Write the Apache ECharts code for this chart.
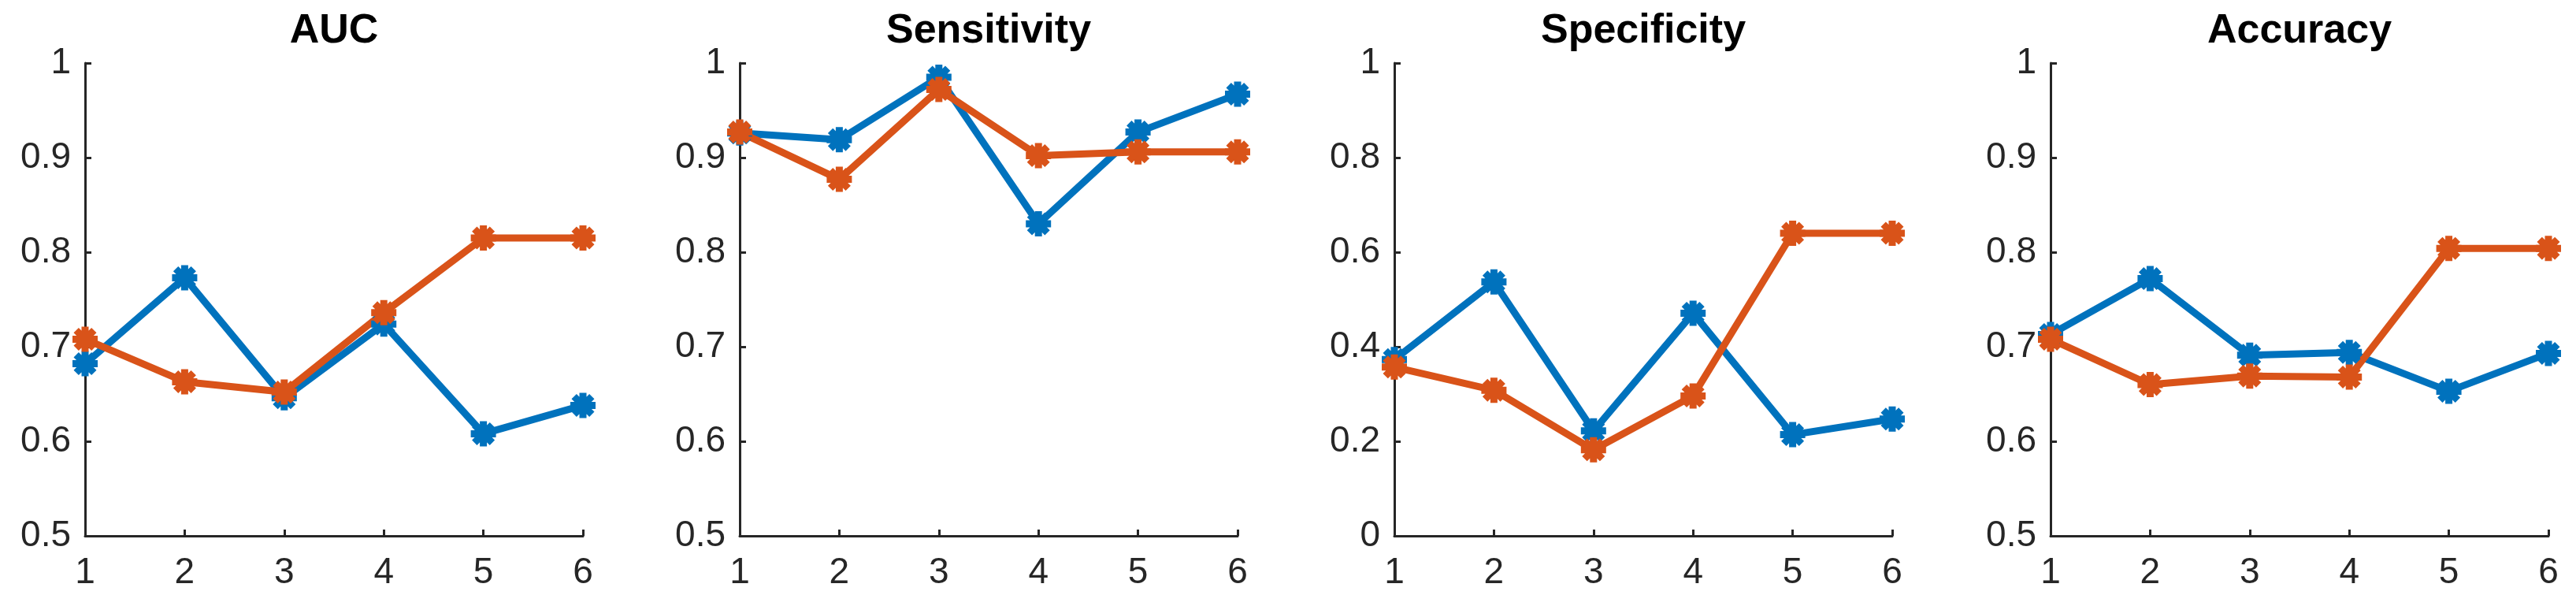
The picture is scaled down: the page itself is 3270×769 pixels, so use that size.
<!DOCTYPE html>
<html>
<head>
<meta charset="utf-8">
<script src="https://cdn.jsdelivr.net/npm/echarts@6/dist/echarts.min.js"></script>
<style>
html,body{margin:0;padding:0;background:#fff;}
#c{width:3270px;height:769px;}
</style>
</head>
<body>
<div id="c"></div>
<script>
// ---- data ----
const xValues = [1, 2, 3, 4, 5, 6];
const panelTitles = ['AUC', 'Sensitivity', 'Specificity', 'Accuracy'];

const aucBlue   = [0.682, 0.773, 0.646, 0.724, 0.608, 0.638];
const aucOrange = [0.708, 0.663, 0.652, 0.736, 0.815, 0.815];

const sensBlue   = [0.926, 0.919, 0.985, 0.830, 0.927, 0.967];
const sensOrange = [0.927, 0.877, 0.972, 0.902, 0.906, 0.906];

const specBlue   = [0.373, 0.537, 0.222, 0.471, 0.214, 0.247];
const specOrange = [0.357, 0.308, 0.182, 0.296, 0.640, 0.640];

const accBlue   = [0.713, 0.772, 0.691, 0.694, 0.653, 0.693];
const accOrange = [0.708, 0.660, 0.669, 0.668, 0.804, 0.804];

const yMins = [0.5, 0.5, 0, 0.5];
const yMaxs = [1, 1, 1, 1];
const yIntervals = [0.1, 0.1, 0.2, 0.1];

// ---- layout / style ----
const blue = '#0072BD';
const orange = '#D95319';
const axisColor = '#262626';
const gridLefts = [108, 939, 1770, 2603];
const gridWidth = 632;
const gridTop = 80;
const gridHeight = 600;
const fontFamily = "'Liberation Sans', Arial, Helvetica, sans-serif";
// filled asterisk: union of four bars (all same winding)
const asterisk = 'path://' +
  'M-16,-4.5L16,-4.5L16,4.5L-16,4.5Z' +
  'M-4.5,-16L4.5,-16L4.5,16L-4.5,16Z' +
  'M-8.132,-14.496L14.496,8.132L8.132,14.496L-14.496,-8.132Z' +
  'M14.496,-8.132L-8.132,14.496L-14.496,8.132L8.132,-14.496Z';

const blues = [aucBlue, sensBlue, specBlue, accBlue];
const oranges = [aucOrange, sensOrange, specOrange, accOrange];

function pairs(vals) { return xValues.map((x, i) => [x, vals[i]]); }

const grid = [], xAxis = [], yAxis = [], series = [], title = [];
for (let p = 0; p < 4; p++) {
  grid.push({ left: gridLefts[p], top: gridTop, width: gridWidth, height: gridHeight, containLabel: false });
  title.push({
    text: panelTitles[p],
    left: gridLefts[p] + gridWidth / 2,
    top: 14,
    padding: 0,
    textAlign: 'center',
    textStyle: { fontSize: 52, fontWeight: 'bold', color: '#000', fontFamily: fontFamily }
  });
  xAxis.push({
    type: 'value', gridIndex: p, min: 1, max: 6, interval: 1,
    axisLine: { show: true, onZero: false, lineStyle: { color: axisColor, width: 3 } },
    axisTick: { show: true, inside: true, length: 8, lineStyle: { color: axisColor, width: 3 } },
    axisLabel: { show: true, margin: 24, fontSize: 46, color: axisColor, fontFamily: fontFamily },
    splitLine: { show: false }
  });
  yAxis.push({
    type: 'value', gridIndex: p, min: yMins[p], max: yMaxs[p], interval: yIntervals[p],
    axisLine: { show: true, onZero: false, lineStyle: { color: axisColor, width: 3 } },
    axisTick: { show: true, inside: true, length: 8, lineStyle: { color: axisColor, width: 3 } },
    axisLabel: { show: true, margin: 18, fontSize: 46, color: axisColor, fontFamily: fontFamily },
    splitLine: { show: false }
  });
  [[blues[p], blue], [oranges[p], orange]].forEach(([vals, col]) => {
    series.push({
      type: 'line', xAxisIndex: p, yAxisIndex: p,
      data: pairs(vals),
      clip: false,
      symbol: asterisk, symbolSize: 32,
      showSymbol: true,
      lineStyle: { color: col, width: 9 },
      itemStyle: { color: col, borderWidth: 0 },
      emphasis: { disabled: true },
      animation: false
    });
  });
}

const chart = echarts.init(document.getElementById('c'), null, { renderer: 'canvas' });
chart.setOption({
  animation: false,
  backgroundColor: '#fff',
  title, grid, xAxis, yAxis, series
});
</script>
</body>
</html>
